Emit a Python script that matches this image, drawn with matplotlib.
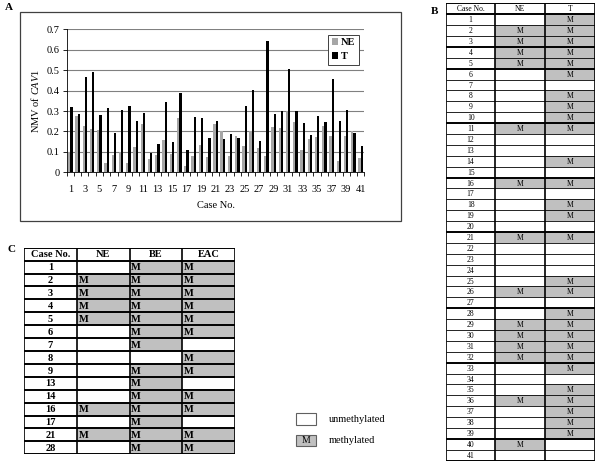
import matplotlib.pyplot as plt
from matplotlib.patches import Rectangle

plt.rcParams['font.family'] = ['Liberation Serif', 'DejaVu Serif']
plt.rcParams['mathtext.fontset'] = 'custom'
plt.rcParams['mathtext.rm'] = 'Liberation Serif'
plt.rcParams['mathtext.it'] = 'Liberation Serif:italic'

# panel A data: normalized methylation value per case
cases = list(range(1, 42))
ne_vals = [0.10, 0.274, 0.227, 0.214, 0.207, 0.046, 0.085, 0.10, 0.044, 0.126,
           0.237, 0.064, 0.085, 0.158, 0.088, 0.264, 0.031, 0.08, 0.134, 0.077,
           0.238, 0.202, 0.08, 0.18, 0.13, 0.204, 0.119, 0.08, 0.22, 0.217,
           0.302, 0.248, 0.108, 0.163, 0.171, 0.227, 0.178, 0.055, 0.178, 0.20,
           0.072]
t_vals = [0.318, 0.287, 0.467, 0.493, 0.28, 0.316, 0.194, 0.307, 0.326, 0.253,
          0.29, 0.095, 0.137, 0.346, 0.15, 0.39, 0.111, 0.27, 0.267, 0.168,
          0.251, 0.163, 0.188, 0.17, 0.326, 0.403, 0.152, 0.641, 0.287, 0.30,
          0.504, 0.30, 0.241, 0.184, 0.274, 0.248, 0.457, 0.253, 0.307, 0.194,
          0.13]

# panel B: methylated cases
b_ne_m = [2, 3, 4, 5, 11, 16, 21, 26, 29, 30, 31, 32, 36, 40]
b_t_m = [1, 2, 3, 4, 5, 6, 8, 9, 10, 11, 14, 16, 18, 19, 21, 25, 26, 28, 29,
         30, 31, 32, 33, 35, 36, 37, 38, 39]
b_thick = [0, 3, 5, 10, 15, 20, 27, 32, 39]

# panel C
c_cases = [1, 2, 3, 4, 5, 6, 7, 8, 9, 13, 14, 16, 17, 21, 28]
c_ne_m = [2, 3, 4, 5, 16, 21]
c_be_m = [1, 2, 3, 4, 5, 6, 7, 9, 13, 14, 16, 17, 21, 28]
c_eac_m = [1, 2, 3, 4, 5, 6, 8, 9, 14, 16, 21, 28]

GRAY = '#a6a6a6'
CELL = '#c0c0c0'
W, H = 600, 468

fig = plt.figure(figsize=(6, 4.68), dpi=100)


def px_axes(x0, y0, x1, y1, **kw):
    return fig.add_axes([x0 / W, 1 - y1 / H, (x1 - x0) / W, (y1 - y0) / H], **kw)


# overlay for frames and labels
ov = px_axes(0, 0, W, H)
ov.set_xlim(0, W)
ov.set_ylim(H, 0)
ov.axis('off')
ov.add_patch(Rectangle((20.3, 12.3), 380.7, 208.4, fill=False, lw=0.9, ec='#404040'))
ov.text(5, 8, 'A', fontsize=8, fontweight='bold', va='center')
ov.text(431, 12, 'B', fontsize=8, fontweight='bold', va='center')
ov.text(8, 250, 'C', fontsize=8, fontweight='bold', va='center')

# ---- panel A ----
ax = px_axes(66.7, 29.3, 364.3, 172.3)
x = range(len(cases))
ax.bar([i - 0.16 for i in x], ne_vals, width=0.32, color=GRAY, label='NE', zorder=3)
ax.bar([i + 0.16 for i in x], t_vals, width=0.32, color='black', label='T', zorder=3)
ax.set_xlim(-0.5, len(cases) - 0.5)
ax.set_ylim(0, 0.7)
ax.set_yticks([i / 10 for i in range(8)])
ax.set_yticklabels(['0'] + [f'{i / 10:.1f}' for i in range(1, 8)], fontsize=7.5)
ax.set_xticks([i for i in x if cases[i] % 2 == 1])
ax.set_xticklabels([str(c) for c in cases if c % 2 == 1], fontsize=7.5)
ax.set_xticks([i - 0.5 for i in range(len(cases) + 1)], minor=True)
ax.tick_params(axis='x', which='major', length=0, pad=9)
ax.tick_params(axis='x', which='minor', length=3, width=0.6, direction='out')
ax.tick_params(axis='y', length=3, width=0.6, pad=2)
ax.grid(axis='y', color='#808080', lw=0.8, zorder=0)
for s in ['top', 'right']:
    ax.spines[s].set_visible(False)
ax.spines['left'].set_linewidth(0.6)
ax.spines['bottom'].set_linewidth(0.6)
ax.set_ylabel('NMV of $\\it{CAV1}$', fontsize=7.5, labelpad=4)
ax.set_xlabel('Case No.', fontsize=7.5, labelpad=5)
leg = ax.legend(loc='upper right', bbox_to_anchor=(1.0, 1.0), fontsize=7.5,
                handlelength=0.6, handleheight=0.6, handletextpad=0.3,
                borderpad=0.35, labelspacing=0.5, fancybox=False,
                framealpha=1, edgecolor='#404040', prop={'weight': 'bold', 'size': 7.5})
leg.get_frame().set_linewidth(0.7)


def draw_table(axt, header, rows, cols_m, left_text, bold, fs, thick):
    nrow = len(rows) + 1
    ncol = len(header)
    axt.set_xlim(0, ncol)
    axt.set_ylim(nrow, 0)
    axt.axis('off')
    for j, h in enumerate(header):
        axt.text(j + 0.5, 0.55, h, ha='center', va='center', fontsize=fs,
                 fontweight='bold' if bold else 'normal')
    for r, case in enumerate(rows, start=1):
        axt.text(0.5, r + 0.55, str(case), ha='center', va='center', fontsize=fs,
                 fontweight='bold' if bold else 'normal')
        for j, mset in enumerate(cols_m, start=1):
            if case in mset:
                axt.add_patch(Rectangle((j, r), 1, 1, fc=CELL, ec='none'))
                if left_text:
                    axt.text(j + 0.03, r + 0.55, 'M', ha='left', va='center',
                             fontsize=fs, fontweight='bold' if bold else 'normal')
                else:
                    axt.text(j + 0.5, r + 0.55, 'M', ha='center', va='center', fontsize=fs)
    for r in range(nrow + 1):
        lw = 1.4 if (r - 1) in thick or r in (0, nrow) else 0.6
        axt.plot([0, ncol], [r, r], color='black', lw=lw, solid_capstyle='butt')
    for j in range(ncol + 1):
        axt.plot([j, j], [0, nrow], color='black', lw=1.2, solid_capstyle='butt')


# ---- panel B ----
axb = px_axes(445.7, 3.3, 595, 460.7)
draw_table(axb, ['Case No.', 'NE', 'T'], cases, [b_ne_m, b_t_m], False, False, 5.5,
           b_thick)

# ---- panel C ----
axc = px_axes(24, 247.7, 235.3, 454.3)
draw_table(axc, ['Case No.', 'NE', 'BE', 'EAC'], c_cases, [c_ne_m, c_be_m, c_eac_m],
           True, True, 7.5, list(range(0, 16)))

# legend for tables
ov.add_patch(Rectangle((296, 412.7), 20, 12.3, fc='white', ec='#606060', lw=0.8))
ov.add_patch(Rectangle((296, 435), 20, 10.7, fc=CELL, ec='#606060', lw=0.8))
ov.text(306, 440.5, 'M', ha='center', va='center', fontsize=7)
ov.text(329, 420, 'unmethylated', va='center', fontsize=7.5)
ov.text(329, 440.5, 'methylated', va='center', fontsize=7.5)

fig.savefig('out.png', dpi=100)
